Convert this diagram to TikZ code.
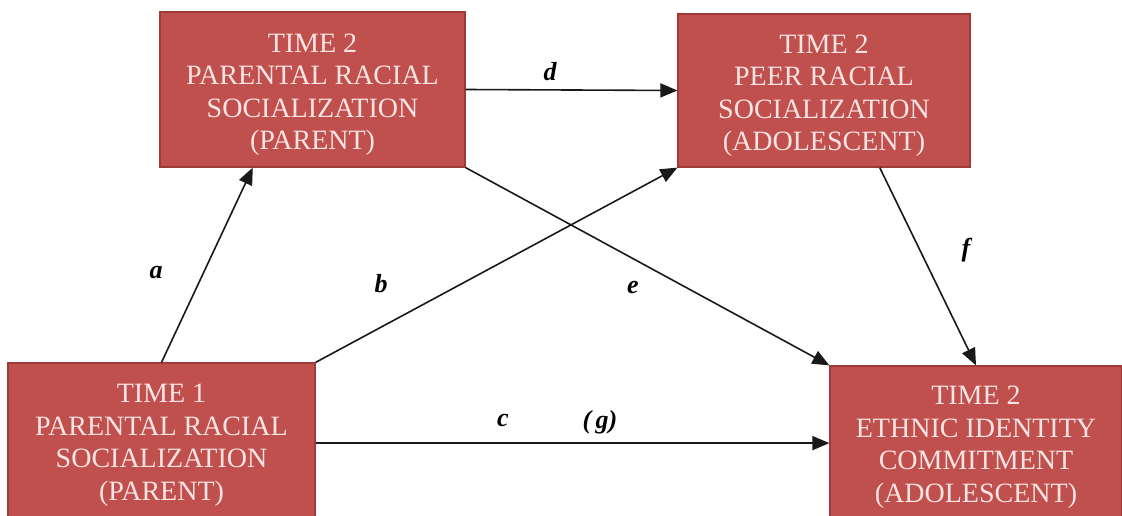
\documentclass[tikz,border=0pt]{standalone}
\usepackage{fontspec}
\setmainfont{Liberation Serif}
\usetikzlibrary{arrows.meta,calc}
\definecolor{boxfill}{HTML}{C0504D}
\definecolor{boxedge}{HTML}{9E3B39}
\definecolor{boxtext}{HTML}{FBE4E2}
\newcommand{\topstrut}{\rule{0pt}{29pt}}
\begin{document}
\begin{tikzpicture}[x=1pt,y=-1pt,
  box/.style={draw=boxedge,line width=1.2pt,fill=boxfill,text=boxtext,align=center,
    font=\fontsize{28}{32.5}\selectfont,inner sep=0pt},
  conn/.style={line width=1.6pt,draw=black!90,-{Triangle[length=17pt,width=14pt]}},
  lab/.style={font=\fontsize{26}{28}\selectfont\bfseries\itshape}]
\useasboundingbox[fill=white] (0,0) rectangle (1122,516);
\node[box,minimum width=305pt,minimum height=155pt] (A) at (312.5,89.5)
  {\topstrut TIME 2\\PARENTAL RACIAL\\SOCIALIZATION\\(PARENT)};
\node[box,minimum width=292pt,minimum height=153pt] (B) at (824,90.5)
  {\topstrut TIME 2\\PEER RACIAL\\SOCIALIZATION\\(ADOLESCENT)};
\node[box,minimum width=307pt,minimum height=154pt] (C) at (161.5,440)
  {\topstrut TIME 1\\PARENTAL RACIAL\\SOCIALIZATION\\(PARENT)};
\node[box,minimum width=292pt,minimum height=152pt] (D) at (976,442)
  {\topstrut TIME 2\\ETHNIC IDENTITY\\COMMITMENT\\(ADOLESCENT)};
\coordinate (Aa) at ($(A.south west)!0.305!(A.south east)$);
\coordinate (Bf) at ($(B.south west)!0.69!(B.south east)$);
\coordinate (Cc) at ($(C.north east)!0.52!(C.south east)$);
\draw[conn] (C.north) -- (Aa);
\draw[conn] (C.north east) -- (B.south west);
\draw[conn] (A.east) -- (B.west);
\draw[conn] (A.south east) -- (D.north west);
\draw[conn] (Bf) -- (D.north);
\draw[conn] (Cc) -- (Cc -| D.west);
\node[lab] (la) at (156,273) {a};
\node[lab] (lb) at (381,284) {b};
\node[lab] (lc) at (503,420) {c};
\node[lab] (lg) at (600,422) {(\,g)};
\node[lab] (ld) at (550,72) {d};
\node[lab] (le) at (633,288) {e};
\node[lab] (lf) at (966,250) {f};
\end{tikzpicture}
\end{document}
